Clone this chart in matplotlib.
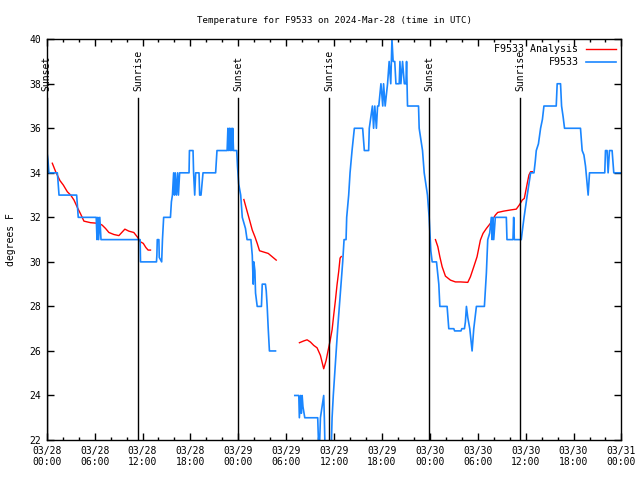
import datetime as dt

import matplotlib
matplotlib.use('Agg')
import matplotlib.pyplot as plt
import numpy as np
from matplotlib.lines import Line2D
from matplotlib.ticker import MultipleLocator

nan = np.nan

# hours since 2024-03-28 00:00 UTC
obs_hours = [0.0, 0.15, 0.27, 1.33, 1.4, 1.54, 3.75, 3.85, 3.95, 6.2, 6.3, 6.4, 6.5, 6.65, 6.8,
             11.7, 11.75, 13.75, 13.8, 13.85, 14.05, 14.1, 14.4, 14.5, 14.65, 15.5, 15.62, 15.75,
             15.9, 16.0, 16.1, 16.25, 16.4, 16.5, 16.65, 17.83, 17.88, 18.33, 18.4, 18.54, 18.66,
             18.8, 19.08, 19.16, 19.33, 19.58, 21.16, 21.33, 22.6, 22.7, 22.8, 22.9, 23.0, 23.1,
             23.2, 23.3, 23.4, 23.8, 23.9, 24.05, 24.3, 24.5, 24.9, 25.1, 25.58, 25.75, 25.87,
             25.95, 26.08, 26.16, 26.37, 26.9, 27.0, 27.4, 27.5, 27.62, 27.75, 27.9, 28.66,
             nan,
             31.08, 31.58, 31.65, 31.8, 31.9, 32.0, 32.1, 32.33, 33.95, 34.08, 34.2, 34.29, 34.5,
             34.7, 34.78, 34.9, 35.6, 35.75, 35.9, 36.08, 36.25, 36.45, 36.66, 36.87, 37.08,
             37.25, 37.5, 37.58, 37.83, 38.0, 38.25, 38.54, 39.58, 39.79, 40.33, 40.41, 40.6,
             40.8, 40.95, 41.1, 41.3, 41.45, 41.6, 41.87, 42.1, 42.2, 42.4, 42.7, 42.9, 43.1,
             43.25, 43.4, 43.6, 43.75, 44.16, 44.25, 44.37, 44.58, 44.8, 45.0, 45.08, 45.2,
             46.58, 46.66, 47.08, 47.29, 47.5, 47.7, 47.91, 48.12, 48.29, 48.83, 49.12, 49.25,
             50.16, 50.37, 51.0, 51.1, 51.9, 52.0, 52.33, 52.45, 52.58, 52.75, 53.0, 53.29,
             53.5, 53.83, 54.83, 55.08, 55.25, 55.5, 55.7, 55.8, 55.9, 56.0, 56.2, 57.58, 57.66,
             58.41, 58.5, 58.58, 59.45, 59.55, 59.8, 60.2, 60.62, 61.04, 61.2, 61.33, 61.6,
             61.87, 62.1, 62.29, 63.83, 63.95, 64.37, 64.5, 64.7, 64.87, 66.87, 67.08, 67.3,
             67.5, 67.7, 67.83, 68.0, 69.91, 70.0, 70.2, 70.33, 70.5, 70.83, 71.04, 72.0]
obs_temps = [35, 34.6, 34, 34, 33.7, 33, 33, 32.5, 32, 32, 31, 32, 31, 32, 31,
             31, 30, 30, 30.3, 31, 31, 30.2, 30, 31, 32, 32, 32.7, 33,
             34, 33, 34, 33, 34, 33, 34, 34, 35, 35, 34, 33, 34,
             34, 34, 33, 33, 34, 34, 35, 35, 36, 35, 36, 35, 36,
             35, 36, 35, 35, 34.3, 33.5, 33, 32, 31.5, 31, 31, 30.3, 29,
             30, 29.6, 28.6, 28, 28, 29, 29, 28.7, 28, 27, 26, 26,
             nan,
             24, 24, 23, 24, 23.2, 24, 23.5, 23, 23, 21.5, 22, 23, 23.5,
             24, 23, 21, 21, 23, 24, 25, 26, 27, 28, 29, 30,
             31, 31, 32, 33, 34, 35, 36, 36, 35, 35, 36, 36.5,
             37, 36, 37, 36, 37, 37, 38, 37, 38, 37, 38, 39, 38,
             40, 39, 39, 38, 38, 39, 38, 39, 38, 38, 39, 37,
             37, 36, 35, 34, 33.5, 33, 32, 30.5, 30, 30, 29, 28,
             28, 27, 27, 26.9, 26.9, 27, 27, 27.3, 28, 27.5, 27, 26,
             27, 28, 28, 29.5, 31, 31.3, 32, 31, 32, 31, 32, 32, 31,
             31, 32, 31, 31, 31.3, 32, 33, 34, 34, 34.5, 35, 35.3,
             36, 36.4, 37, 37, 38, 38, 37, 36.5, 36, 36, 35, 34.8,
             34.3, 33.5, 33, 34, 34, 35, 35, 34, 35, 35, 34, 34]

ana_hours = [0.7, 1.12, 1.66, 2.08, 2.58, 3.0, 3.41, 3.83, 4.25, 4.66, 5.5, 6.54, 6.95, 7.37,
             7.79, 8.41, 9.04, 9.79, 10.29, 10.91, 11.33, 11.75, 12.1, 12.41, 12.7, 13.0,
             nan,
             24.7, 25.12, 25.41, 25.75, 26.08, 26.37, 26.66, 27.2, 27.75, 28.25, 28.75,
             nan,
             31.66, 32.2, 32.62, 33.04, 33.45, 33.87, 34.29, 34.7, 35.0, 35.25, 35.5, 35.75,
             35.95, 36.16, 36.37, 36.58, 36.75, 36.9,
             nan,
             48.7, 49.0, 49.25, 49.54, 49.95, 50.58, 51.2, 51.83, 52.75, 53.08, 53.5, 53.91,
             54.33, 54.66, 55.08, 55.58, 56.2, 56.5, 57.25, 58.08, 58.83, 59.25, 59.58, 59.83,
             60.05, 60.2, 60.41, 60.62, 60.83]
ana_temps = [34.43, 34.05, 33.65, 33.45, 33.15, 33.0, 32.78, 32.45, 32.15, 31.83, 31.76, 31.73,
             31.65, 31.5, 31.32, 31.23, 31.18, 31.47, 31.38, 31.32, 31.13, 30.9, 30.83, 30.65,
             30.53, 30.53,
             nan,
             32.8, 32.25, 31.88, 31.43, 31.13, 30.83, 30.5, 30.44, 30.38, 30.23, 30.08,
             nan,
             26.37, 26.45, 26.5, 26.4, 26.25, 26.14, 25.8, 25.2, 25.57, 26.02, 26.45, 26.95,
             27.6, 28.25, 28.97, 29.57, 30.17, 30.24,
             nan,
             31.0, 30.68, 30.23, 29.78, 29.36, 29.18, 29.1, 29.1, 29.08, 29.33, 29.78, 30.23,
             30.98, 31.28, 31.5, 31.73, 32.1, 32.22, 32.28, 32.33, 32.37, 32.58, 32.78, 32.85,
             33.25, 33.53, 33.9, 34.05, 34.05]

sunset_hours = [0.0, 23.95, 47.95]
sunrise_hours = [11.45, 35.42, 59.33]

start = dt.datetime(2024, 3, 28)
tick_hours = list(range(0, 73, 6))
tick_labels = [(start + dt.timedelta(hours=h)).strftime('%m/%d\n%H:%M') for h in tick_hours]

plt.rcParams['font.family'] = 'DejaVu Sans Mono'
plt.rcParams['font.size'] = 7

fig = plt.figure(figsize=(6.4, 4.8), dpi=100)
ax = fig.add_axes([0.073, 0.0833, 0.898, 0.835])

red = '#ff0000'
blue = '#1a86ff'
ax.plot(ana_hours, ana_temps, color=red, lw=1.0)
ax.plot(obs_hours, obs_temps, color=blue, lw=1.2)

# sunrise / sunset markers
for hours, label in [(sunset_hours, 'Sunset'), (sunrise_hours, 'Sunrise')]:
    for h in hours:
        ax.plot([h, h], [0, 0.853], color='black', lw=1.0, transform=ax.get_xaxis_transform())
        ax.text(h, 0.87, label, rotation=90, ha='center', va='bottom',
                transform=ax.get_xaxis_transform())

ax.set_xlim(0, 72)
ax.set_ylim(22, 40)
ax.set_xticks(tick_hours)
ax.set_xticklabels(tick_labels)
ax.xaxis.set_minor_locator(MultipleLocator(2))
ax.set_yticks(range(22, 41, 2))
ax.tick_params(which='both', direction='in', top=True, right=True, width=1.0)
ax.tick_params(which='major', length=5, pad=4)
ax.tick_params(which='minor', length=2.5)
for s in ax.spines.values():
    s.set_linewidth(1.0)

ax.set_ylabel('degrees F', labelpad=10)
ax.set_title('Temperature for F9533 on 2024-Mar-28 (time in UTC)', fontsize=6.6, pad=12)

handles = [Line2D([], [], color=red, lw=1.0), Line2D([], [], color=blue, lw=1.2)]
ax.legend(handles, ['F9533 Analysis', 'F9533'], loc='upper right', frameon=False,
          markerfirst=False, handlelength=3.0, handletextpad=0.8, labelspacing=0.3,
          borderaxespad=0.3, borderpad=0.2, fontsize=7.2)

fig.savefig('out.png', dpi=100)
